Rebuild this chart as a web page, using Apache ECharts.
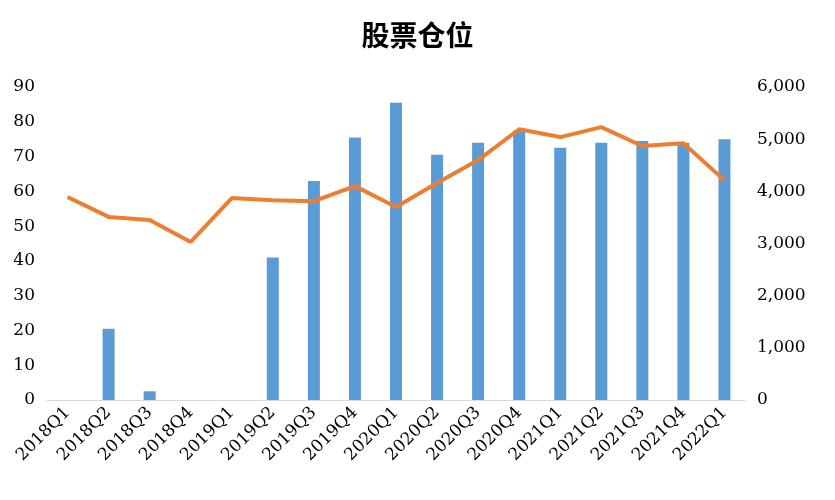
<!DOCTYPE html>
<html>
<head>
<meta charset="utf-8">
<script src="https://cdn.jsdelivr.net/npm/echarts@6/dist/echarts.min.js"></script>
<style>html,body{margin:0;padding:0;background:#fff}#main{width:835px;height:500px}</style>
</head>
<body>
<div id="main"></div>
<script>
const quarters = ['2018Q1','2018Q2','2018Q3','2018Q4','2019Q1','2019Q2','2019Q3','2019Q4','2020Q1','2020Q2','2020Q3','2020Q4','2021Q1','2021Q2','2021Q3','2021Q4','2022Q1'];
const barValues = [0, 20.5, 2.5, 0, 0, 41, 63, 75.5, 85.5, 70.5, 74, 77.5, 72.5, 74, 74.5, 74, 75];
const lineValues = [3890, 3510, 3450, 3030, 3870, 3830, 3810, 4100, 3700, 4160, 4600, 5190, 5040, 5230, 4870, 4920, 4210];

const serif = 'DejaVu Serif';
let myChart = echarts.init(document.getElementById('main'));
let option = {
    animation: false,
    title: {
        text: '股票仓位',
        left: 'center',
        top: 16,
        textStyle: {fontFamily: 'Noto Sans CJK SC', fontSize: 28, fontWeight: 'bold', color: '#000'}
    },
    grid: {left: 47, right: 90, top: 87, bottom: 100},
    xAxis: {
        type: 'category',
        data: quarters,
        axisTick: {show: false},
        axisLine: {lineStyle: {color: '#d9d9d9'}},
        axisLabel: {rotate: 45, color: '#000', fontFamily: serif, fontSize: 17, margin: 10}
    },
    yAxis: [{
        type: 'value', min: 0, max: 90, interval: 10,
        splitLine: {show: false},
        axisLabel: {color: '#000', fontFamily: serif, fontSize: 17, margin: 12}
    }, {
        type: 'value', min: 0, max: 6000, interval: 1000,
        splitLine: {show: false},
        axisLabel: {
            color: '#000', fontFamily: serif, fontSize: 17, margin: 12,
            formatter: v => v.toLocaleString('en-US')
        }
    }],
    series: [{
        type: 'bar',
        data: barValues,
        barWidth: 12,
        itemStyle: {color: '#5b9bd5'}
    }, {
        type: 'line',
        yAxisIndex: 1,
        data: lineValues,
        symbol: 'none',
        lineStyle: {color: '#ed7d31', width: 4}
    }]
};
myChart.setOption(option);
</script>
</body>
</html>
